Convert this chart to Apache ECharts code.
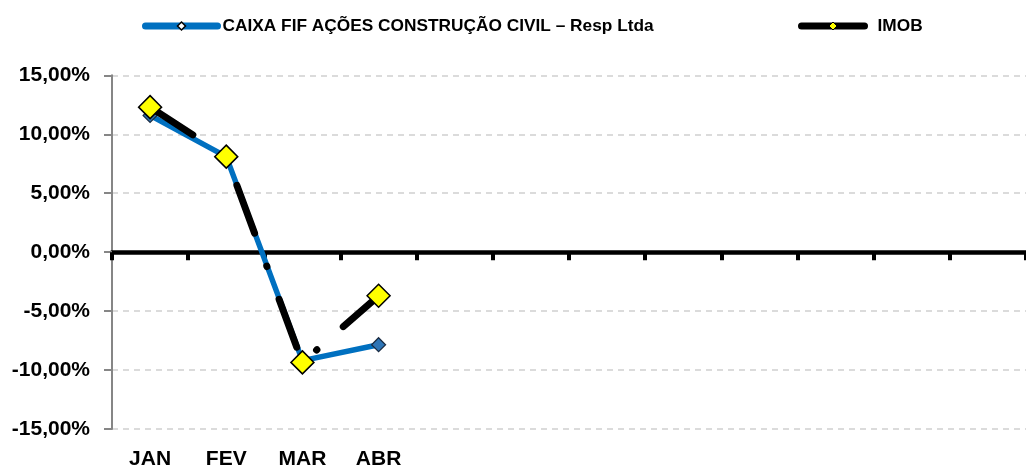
<!DOCTYPE html>
<html>
<head>
<meta charset="utf-8">
<script src="https://cdn.jsdelivr.net/npm/echarts@6/dist/echarts.min.js"></script>
<style>
html,body{margin:0;padding:0;background:#fff;}
#chart{width:1026px;height:474px;}
</style>
</head>
<body>
<div id="chart"></div>
<script>
// Data
var categories = ['JAN', 'FEV', 'MAR', 'ABR', '', '', '', '', '', '', '', ''];
var caixaName = 'CAIXA FIF AÇÕES CONSTRUÇÃO CIVIL – Resp Ltda';
var imobName = 'IMOB';
var caixaValues = [11.6, 8.1, -9.2, -7.85];
var imobValues = [12.3, 8.1, -9.35, -3.7];
var yTicks = [-15, -10, -5, 0, 5, 10, 15];

var FONT = '"Liberation Sans", Arial, sans-serif';
var chart = echarts.init(document.getElementById('chart'), null, {renderer: 'canvas'});

function fmt(v) {
  return v.toFixed(2).replace('.', ',') + '%';
}

var option = {
  animation: false,
  backgroundColor: '#ffffff',
  textStyle: {fontFamily: FONT},
  legend: [
    {
      left: 137, top: 12.5, padding: 5,
      itemWidth: 72, itemHeight: 10, itemGap: 5,
      textStyle: {fontFamily: FONT, fontWeight: 'bold', fontSize: 17.3, color: '#000'},
      data: [{
        name: caixaName,
        itemStyle: {color: '#ffffff', borderColor: '#000', borderWidth: 1.5},
        lineStyle: {color: '#0070C0', width: 7, type: 'solid', cap: 'round'}
      }]
    },
    {
      left: 793, top: 12.5, padding: 5,
      itemWidth: 63, itemHeight: 10,
      textStyle: {fontFamily: FONT, fontWeight: 'bold', fontSize: 17.3, color: '#000', padding: [0, 0, 0, 8]},
      data: [{
        name: imobName,
        itemStyle: {color: '#FFFF00', borderColor: '#000', borderWidth: 1},
        lineStyle: {color: '#000', width: 7, type: 'solid', cap: 'round'}
      }]
    }
  ],
  grid: {left: 112, right: -3, top: 75.3, bottom: 45, containLabel: false},
  xAxis: [
    {
      type: 'category',
      data: categories,
      boundaryGap: true,
      position: 'bottom',
      axisLine: {onZero: true, lineStyle: {color: '#000', width: 4.5}},
      axisTick: {show: true, alignWithLabel: false, inside: false, length: 8, lineStyle: {color: '#000', width: 4}},
      axisLabel: {show: false},
      splitLine: {show: false}
    },
    {
      type: 'category',
      data: categories,
      boundaryGap: true,
      position: 'bottom',
      axisLine: {show: false, onZero: false},
      axisTick: {show: false},
      axisLabel: {show: true, interval: 0, margin: 20, fontFamily: FONT, fontWeight: 'bold', fontSize: 21, color: '#000'},
      splitLine: {show: false}
    }
  ],
  yAxis: {
    type: 'value',
    min: yTicks[0],
    max: yTicks[yTicks.length - 1],
    interval: 5,
    axisLine: {show: true, onZero: false, lineStyle: {color: '#868686', width: 2}},
    axisTick: {show: true, length: 8, lineStyle: {color: '#868686', width: 2}},
    axisLabel: {margin: 22, fontFamily: FONT, fontWeight: 'bold', fontSize: 21, color: '#000', formatter: fmt},
    splitLine: {show: true, lineStyle: {color: '#d0d0d0', width: 1.5, type: [6, 5]}}
  },
  series: [
    {
      name: caixaName,
      type: 'line',
      xAxisIndex: 0,
      data: caixaValues,
      symbol: 'diamond',
      symbolSize: 14,
      lineStyle: {color: '#0070C0', width: 5.5},
      itemStyle: {color: '#2E75B6', borderColor: '#1a2a40', borderWidth: 1.2},
      z: 2
    },
    {
      name: imobName,
      type: 'line',
      xAxisIndex: 0,
      data: imobValues,
      symbol: 'diamond',
      symbolSize: 23,
      lineStyle: {color: '#000', width: 7, type: [51, 35, 0.5, 35], cap: 'round'},
      itemStyle: {color: '#FFFF00', borderColor: '#000', borderWidth: 1.5},
      z: 3
    }
  ]
};
chart.setOption(option);
</script>
</body>
</html>
